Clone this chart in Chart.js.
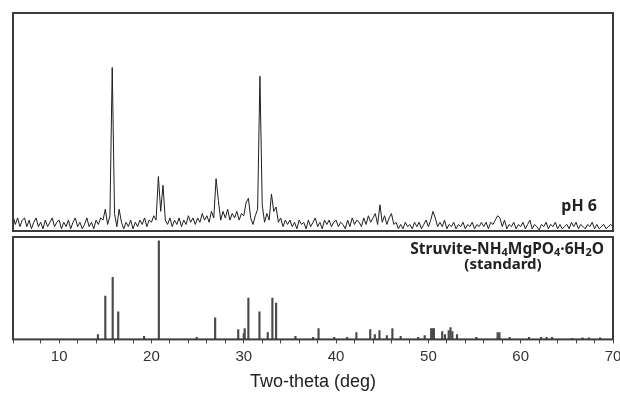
<!DOCTYPE html>
<html lang="en">
<head>
<meta charset="UTF-8">
<title>Struvite XRD pH 6</title>
<script src="https://cdn.jsdelivr.net/npm/chart.js@4.4.1/dist/chart.umd.min.js"></script>
<style>
  html, body { margin: 0; padding: 0; background: #fff; }
  .xrd { position: relative; width: 620px; height: 395px; overflow: hidden; }
  .xrd canvas { position: absolute; left: 0; }
  #sampleChart { top: 0; }
  #standardChart { top: 234px; }
</style>
</head>
<body>
<div class="xrd">
  <canvas id="sampleChart" width="620" height="234"></canvas>
  <canvas id="standardChart" width="620" height="161"></canvas>
</div>
<script>
// 측정 패턴 (pH 6) : 5~70도, 0.25도 간격 강도값
const scanStart = 5;
const scanStep = 0.25;
const sampleIntensity = [
  7, 3, 6, 2, 5, 6, 2, 5, 1, 4, 6, 2, 4, 1, 5, 2, 4, 6, 2, 4,        // 5 - 9.75
  5, 1, 4, 2, 5, 1, 4, 6, 2, 4, 1, 3, 6, 2, 4, 1, 5, 3, 6, 5,        // 10 - 14.75
  10, 3, 7, 75, 8, 2, 10, 4, 1, 4, 2, 5, 1, 4, 2, 5, 3, 6, 2, 5,     // 15 - 19.75
  4, 7, 5, 25, 9, 21, 5, 3, 6, 2, 5, 3, 6, 2, 5, 3, 7, 4, 6, 3,      // 20 - 24.75
  6, 4, 8, 5, 7, 4, 9, 6, 24, 14, 5, 9, 6, 10, 5, 8, 6, 9, 5, 8,     // 25 - 29.75
  7, 13, 15, 6, 3, 7, 10, 71, 12, 4, 8, 5, 17, 9, 11, 4, 6, 2, 5, 3, // 30 - 34.75
  5, 2, 4, 1, 5, 3, 4, 1, 5, 2, 4, 6, 2, 4, 1, 5, 3, 5, 2, 4,        // 35 - 39.75
  5, 2, 4, 3, 1, 5, 2, 6, 3, 5, 4, 2, 6, 3, 7, 4, 6, 8, 3, 12,       // 40 - 44.75
  4, 7, 3, 6, 8, 3, 4, 1, 3, 1, 4, 2, 3, 1, 4, 2, 4, 1, 3, 5,        // 45 - 49.75
  2, 5, 9, 6, 2, 4, 2, 5, 1, 3, 2, 4, 1, 3, 2, 4, 1, 3, 2, 4,        // 50 - 54.75
  1, 3, 2, 4, 2, 4, 1, 4, 3, 5, 7, 6, 2, 5, 1, 3, 2, 4, 1, 3,        // 55 - 59.75
  2, 4, 1, 3, 5, 1, 3, 2, 0.5, 3, 2, 4, 1, 3, 2, 4, 1, 3, 1, 2,      // 60 - 64.75
  3, 1, 4, 2, 4, 1, 3, 2, 1, 3, 2, 4, 1, 3, 1, 2, 3, 1, 2, 3, 2      // 65 - 70
];

// 표준 스트루바이트 (standard) 피크 위치와 상대강도
const stdAngles = [
  14.2, 15.0, 15.8, 16.4, 19.2, 20.8, 24.9, 26.9, 29.4, 30.0, 30.1, 30.5, 31.7,
  32.6, 33.1, 33.5, 35.6, 37.5, 38.1, 39.8, 41.2, 42.2, 43.7, 44.2, 44.7, 45.5,
  46.1, 47.0, 48.9, 49.6, 50.3, 50.45, 50.6, 51.5, 51.8, 52.2, 52.4, 52.6, 53.1,
  55.2, 57.5, 57.7, 58.8, 60.9, 62.2, 62.8, 63.4, 65.6, 66.7, 67.4, 68.6
];
const stdIntensity = [
  5, 44, 63, 28, 3, 100, 2, 22, 10, 6, 11, 42, 28,
  7, 42, 37, 3, 2, 11, 2, 2, 7, 10, 5, 9, 4,
  11, 3, 2, 4, 11, 11, 11, 8, 5, 9, 12, 8, 5,
  2, 7, 7, 2, 2, 2, 2, 2, 1, 1.5, 1.5, 1.5
];

// x축 눈금 라벨
const xTickLabels = [10, 20, 30, 40, 50, 60, 70];

// 패널 테두리 그리기
const framePlugin = {
  id: "frame",
  afterDraw: function (chart) {
    const ctx = chart.ctx;
    const a = chart.chartArea;
    ctx.save();
    ctx.strokeStyle = "#3c3c3c";
    ctx.lineWidth = 2;
    ctx.strokeRect(a.left, a.top, a.right - a.left, a.bottom - a.top);
    ctx.restore();
  },
};

// 아래첨자 포함 텍스트 (오른쪽 정렬)
function drawRuns(ctx, runs, xRight, y, size) {
  const fontOf = function (sub) {
    return "bold " + (sub ? Math.round(size * 0.7) : size) + "px 'Noto Sans', sans-serif";
  };
  let total = 0;
  const widths = runs.map(function (r) {
    ctx.font = fontOf(r[1]);
    const w = ctx.measureText(r[0]).width;
    total += w;
    return w;
  });
  let x = xRight - total;
  runs.forEach(function (r, i) {
    ctx.font = fontOf(r[1]);
    ctx.fillText(r[0], x, r[1] ? y + size * 0.2 : y);
    x += widths[i];
  });
}

// [표준 패턴] 막대(스틱) 차트 - x축 포함
const stdChart = new Chart(document.getElementById("standardChart"), {
  type: "bar",
  data: {
    datasets: [
      {
        data: stdAngles.map(function (a, i) {
          return { x: a, y: stdIntensity[i] };
        }),
        backgroundColor: "#4a4a4a",
        barThickness: 1.5,
      },
    ],
  },
  options: {
    responsive: false,
    animation: false,
    layout: { padding: { left: 13, right: 0, top: 3, bottom: 2 } },
    plugins: { legend: { display: false }, tooltip: { enabled: false } },
    scales: {
      x: {
        type: "linear",
        min: 5,
        max: 70,
        offset: false,
        border: { display: false },
        grid: { drawOnChartArea: false, offset: false, tickLength: 4, color: "#444", lineWidth: 1 },
        ticks: {
          stepSize: 2,
          autoSkip: false,
          maxRotation: 0,
          padding: 4,
          color: "#333",
          font: { family: "'Liberation Sans', Arial, sans-serif", size: 15 },
          callback: function (value) {
            return xTickLabels.includes(value) ? String(value) : "";
          },
        },
        title: {
          display: true,
          text: "Two-theta (deg)",
          color: "#222",
          font: { family: "'Liberation Sans', Arial, sans-serif", size: 18 },
          padding: { top: 2, bottom: 0 },
        },
        // 마지막 라벨(70) 때문에 생기는 오른쪽 여백을 줄임
        afterFit: function (scale) {
          scale.paddingLeft = 0;
          scale.paddingRight = 7;
        },
      },
      y: { display: false, min: 0, max: 104 },
    },
  },
  plugins: [
    framePlugin,
    {
      id: "stdLabel",
      afterDraw: function (chart) {
        const ctx = chart.ctx;
        const a = chart.chartArea;
        ctx.save();
        ctx.fillStyle = "#222";
        ctx.textBaseline = "middle";
        drawRuns(ctx, [["Struvite-NH", false], ["4", true], ["MgPO", false], ["4", true], ["·6H", false], ["2", true], ["O", false]], a.right - 9, a.top + 13, 15.5);
        ctx.font = "bold 15px 'Noto Sans', sans-serif";
        ctx.textAlign = "center";
        ctx.fillText("(standard)", a.right - 110, a.top + 28);
        ctx.restore();
      },
    },
  ],
});

// [측정 패턴] 선 차트 - 가로 위치는 아래 차트와 맞춤
const area = stdChart.chartArea;

new Chart(document.getElementById("sampleChart"), {
  type: "line",
  data: {
    datasets: [
      {
        data: sampleIntensity.map(function (v, i) {
          return { x: scanStart + i * scanStep, y: v };
        }),
        borderColor: "#1e1e1e",
        borderWidth: 1,
        pointRadius: 0,
        tension: 0,
      },
    ],
  },
  options: {
    responsive: false,
    animation: false,
    layout: { padding: { left: area.left, right: 620 - area.right, top: 13, bottom: 3 } },
    plugins: { legend: { display: false }, tooltip: { enabled: false } },
    scales: {
      x: { type: "linear", display: false, min: 5, max: 70 },
      y: { display: false, min: 0, max: 100 },
    },
  },
  plugins: [
    framePlugin,
    {
      id: "phLabel",
      afterDraw: function (chart) {
        const ctx = chart.ctx;
        const a = chart.chartArea;
        ctx.save();
        ctx.fillStyle = "#222";
        ctx.font = "bold 16px 'Noto Sans', sans-serif";
        ctx.textAlign = "right";
        ctx.textBaseline = "middle";
        ctx.fillText("pH 6", a.right - 16, a.bottom - 25);
        ctx.restore();
      },
    },
  ],
});
</script>
</body>
</html>
